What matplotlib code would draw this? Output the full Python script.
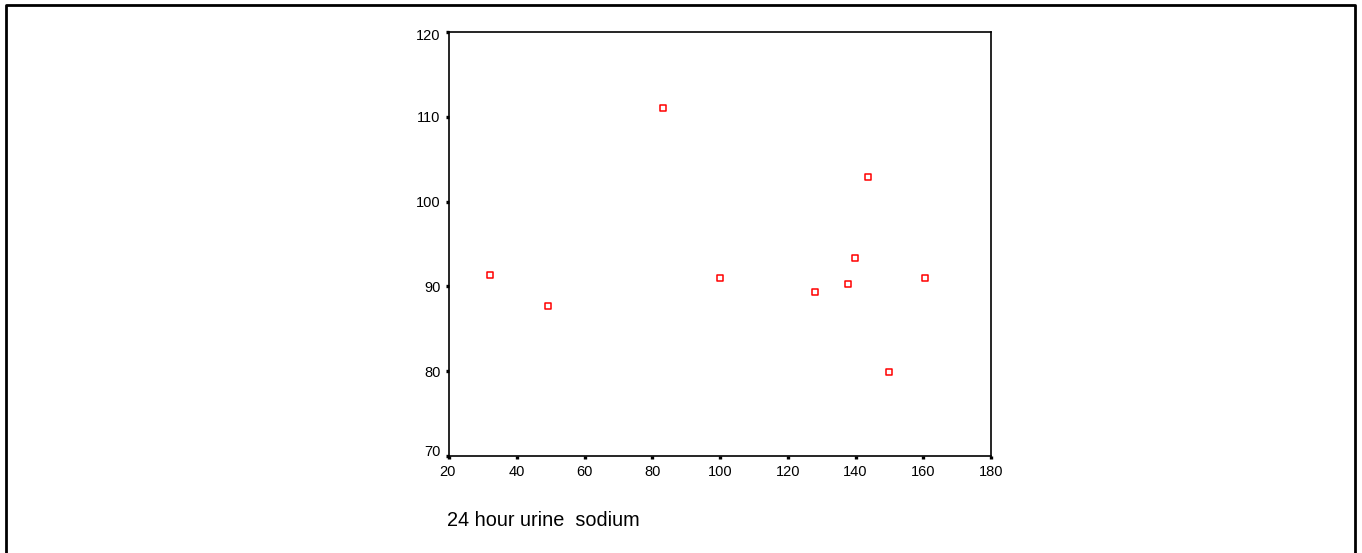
import numpy as np
import matplotlib.pyplot as plt
import matplotlib.transforms as mtransforms
from matplotlib.lines import Line2D

plt.rcParams['font.family'] = ['Liberation Sans', 'DejaVu Sans']

# 24 hour urine sodium vs. y value
sodium = [32.1, 49.2, 83.2, 100.0, 128.0, 137.8, 139.9, 143.7, 149.9, 160.5]
yvals = [91.3, 87.7, 111.0, 91.0, 89.3, 90.3, 93.3, 102.9, 79.9, 91.0]

xticks = [20, 40, 60, 80, 100, 120, 140, 160, 180]
yticks = [70, 80, 90, 100, 110, 120]

fig = plt.figure(figsize=(13.62, 5.53), dpi=100)
ax = fig.add_axes([449 / 1362, 1 - 456 / 553, 542 / 1362, 424 / 553])

ax.scatter(sodium, yvals, marker="s", s=22, facecolors="white",
           edgecolors="#ff0000", linewidths=1.1, zorder=3)

ax.set_xlim(20, 180)
ax.set_ylim(70, 120)
ax.set_xticks(xticks)
ax.set_yticks(yticks)
ax.tick_params(direction="out", length=2.2, width=2.4, labelsize=10.5, pad=4)
for s in ax.spines.values():
    s.set_linewidth(1.2)

# end labels sit slightly inside, as in the original
ylabs = ax.get_yticklabels()
ylabs[0].set_transform(ylabs[0].get_transform() +
                       mtransforms.ScaledTranslation(0, 5 / 100, fig.dpi_scale_trans))
ylabs[-1].set_transform(ylabs[-1].get_transform() +
                        mtransforms.ScaledTranslation(0, -3 / 100, fig.dpi_scale_trans))
xlabs = ax.get_xticklabels()
xlabs[0].set_transform(xlabs[0].get_transform() +
                       mtransforms.ScaledTranslation(-2 / 100, 0, fig.dpi_scale_trans))

fig.text(447 / 1362, 1 - 521 / 553, "24 hour urine  sodium",
         fontsize=14.3, ha="left", va="center")

# outer frame (no bottom edge)
fig.add_artist(Line2D([6 / 1362, 6 / 1362, 1355 / 1362, 1355 / 1362],
                      [0, 1 - 5 / 553, 1 - 5 / 553, 0],
                      transform=fig.transFigure, color="black", lw=2))

fig.savefig("out.png", dpi=100)
